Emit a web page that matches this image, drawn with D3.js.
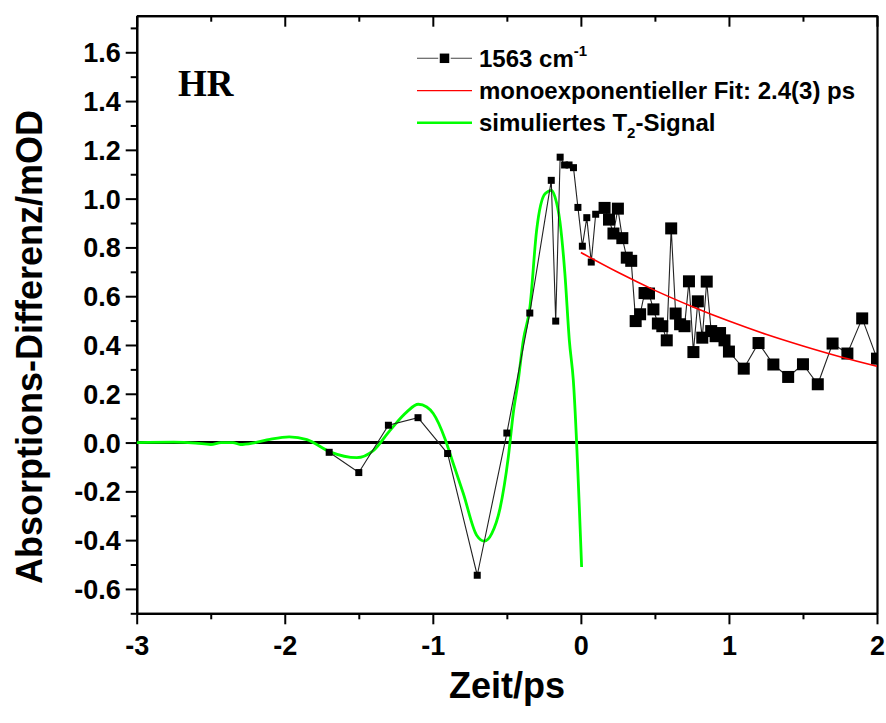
<!DOCTYPE html>
<html>
<head>
<meta charset="utf-8">
<script src="https://cdn.jsdelivr.net/npm/d3@7"></script>
<style>
  html, body { margin: 0; padding: 0; background: #fff; }
  svg { display: block; }
  text { font-family: Arial, "Liberation Sans", sans-serif; font-weight: bold; fill: #000; }
</style>
</head>
<body>
<svg id="chart" width="886" height="723"></svg>
<script>
// Pump-probe trace at 1563 cm-1: fine scan around time zero (small symbols)
const fineTime   = [-1.7, -1.5, -1.3, -1.1, -0.9, -0.7, -0.5, -0.345, -0.2, -0.17, -0.14, -0.11, -0.08, -0.05, -0.02, 0.01, 0.04, 0.07, 0.10];
const fineSignal = [-0.04, -0.123, 0.071, 0.102, -0.045, -0.544, 0.039, 0.531, 1.075, 0.498, 1.17, 1.138, 1.138, 1.127, 0.964, 0.805, 0.922, 0.740, 0.936];

// Later delays (large symbols)
const coarseTime   = [0.16, 0.19, 0.22, 0.25, 0.28, 0.31, 0.34, 0.37, 0.40, 0.43, 0.46, 0.49, 0.52, 0.55, 0.58, 0.61, 0.64, 0.67, 0.70, 0.73, 0.76, 0.79, 0.82, 0.85, 0.88, 0.91, 0.94, 0.97, 1.00,
                      1.1, 1.2, 1.3, 1.4, 1.5, 1.6, 1.7, 1.8, 1.9, 2.0];
const coarseSignal = [0.962, 0.914, 0.857, 0.959, 0.838, 0.758, 0.745, 0.498, 0.526, 0.613, 0.611, 0.546, 0.488, 0.477, 0.419, 0.878, 0.529, 0.485, 0.477, 0.661, 0.371, 0.579, 0.430, 0.660, 0.457, 0.436, 0.449, 0.419, 0.373,
                      0.303, 0.408, 0.320, 0.269, 0.321, 0.239, 0.406, 0.365, 0.509, 0.344];

// Monoexponential fit, tau = 2.4 ps
const fitTime   = [0, 0.25, 0.5, 0.75, 1.0, 1.25, 1.5, 1.75, 2.0];
const fitSignal = [0.779, 0.698, 0.624, 0.558, 0.498, 0.444, 0.396, 0.352, 0.313];

// Simulated T2 signal
const simTime   = [-3.0, -2.75, -2.6, -2.5, -2.43, -2.35, -2.3, -2.2, -2.1, -1.97, -1.85, -1.695, -1.514, -1.402, -1.289, -1.177, -1.098, -1.041, -0.997, -0.918, -0.862, -0.794, -0.704, -0.652, -0.602, -0.546, -0.49, -0.457, -0.423, -0.389, -0.344, -0.299, -0.242, -0.197, -0.175, -0.141, -0.108, -0.078, -0.051, 0.005];
const simSignal = [0.0, 0.002, -0.002, -0.008, 0.0, 0.0, -0.008, 0.0, 0.013, 0.023, 0.012, -0.038, -0.062, -0.033, 0.05, 0.125, 0.157, 0.146, 0.119, 0.016, -0.086, -0.209, -0.38, -0.404, -0.373, -0.27, -0.059, 0.119, 0.255, 0.419, 0.556, 0.87, 1.02, 1.034, 1.007, 0.904, 0.693, 0.419, 0.255, -0.51];

// Axis ticks
const xTicks      = [-3, -2, -1, 0, 1, 2];
const xMinorTicks = [-2.5, -1.5, -0.5, 0.5, 1.5];
const yTicks      = [-0.6, -0.4, -0.2, 0.0, 0.2, 0.4, 0.6, 0.8, 1.0, 1.2, 1.4, 1.6];
const yMinorTicks = [-0.7, -0.5, -0.3, -0.1, 0.1, 0.3, 0.5, 0.7, 0.9, 1.1, 1.3, 1.5, 1.7];

// Texts
const xTitle = "Zeit/ps";
const yTitle = "Absorptions-Differenz/mOD";
const sampleLabel = "HR";
const legendData = "1563 cm";
const legendFit = "monoexponentieller Fit: 2.4(3) ps";
const legendSim = ["simuliertes T", "2", "-Signal"];

const svg = d3.select("#chart");
const plot = { left: 136.7, right: 877, top: 15.7, bottom: 613.3 };

const x = d3.scaleLinear().domain([-3, 2]).range([plot.left, plot.right]);
const y = d3.scaleLinear().domain([-0.7, 1.75]).range([plot.bottom, plot.top]);

svg.append("defs").append("clipPath").attr("id", "clip")
  .append("rect")
  .attr("x", plot.left).attr("y", plot.top)
  .attr("width", plot.right - plot.left).attr("height", plot.bottom - plot.top);

const fmtY = d => d.toFixed(1);
const fmtX = d => String(d);

// Bottom axis
const axBottom = svg.append("g").attr("transform", `translate(0,${plot.bottom})`);
axBottom.call(d3.axisBottom(x).tickValues(xTicks).tickSize(11).tickSizeOuter(0).tickFormat(fmtX));
axBottom.append("g").call(d3.axisBottom(x).tickValues(xMinorTicks).tickSize(6).tickSizeOuter(0).tickFormat(""));
axBottom.selectAll("text").attr("font-size", 27).attr("dy", "1.12em").attr("y", 11);

// Left axis
const axLeft = svg.append("g").attr("transform", `translate(${plot.left},0)`);
axLeft.call(d3.axisLeft(y).tickValues(yTicks).tickSize(11).tickSizeOuter(0).tickFormat(fmtY));
axLeft.append("g").call(d3.axisLeft(y).tickValues(yMinorTicks).tickSize(6).tickSizeOuter(0).tickFormat(""));
axLeft.selectAll("text").attr("font-size", 27).attr("x", -16).attr("dy", "0.35em");

// Top axis (ticks pointing inward)
const axTop = svg.append("g").attr("transform", `translate(0,${plot.top})`);
axTop.call(d3.axisBottom(x).tickValues(xTicks).tickSize(11).tickSizeOuter(0).tickFormat(""));
axTop.append("g").call(d3.axisBottom(x).tickValues(xMinorTicks).tickSize(6).tickSizeOuter(0).tickFormat(""));

// Right axis (plain line)
const axRight = svg.append("g").attr("transform", `translate(${plot.right},0)`);
axRight.call(d3.axisRight(y).tickValues([]).tickSizeOuter(0));

svg.selectAll(".domain").attr("stroke", "#000").attr("stroke-width", 2.2);
svg.selectAll(".tick line").attr("stroke", "#000").attr("stroke-width", 2);

// Zero line
svg.append("line")
  .attr("x1", x(-3)).attr("x2", x(2))
  .attr("y1", y(0)).attr("y2", y(0))
  .attr("stroke", "#000").attr("stroke-width", 3);

const layer = svg.append("g").attr("clip-path", "url(#clip)");

// Simulated T2 signal
const simPts = simTime.map((t, i) => [t, simSignal[i]]);
layer.append("path")
  .attr("d", d3.line().x(d => x(d[0])).y(d => y(d[1])).curve(d3.curveMonotoneX)(simPts))
  .attr("fill", "none").attr("stroke", "#00ff00").attr("stroke-width", 2.8)
  .attr("stroke-linejoin", "round");

// Measured trace
const finePts = fineTime.map((t, i) => [t, fineSignal[i]]);
const coarsePts = coarseTime.map((t, i) => [t, coarseSignal[i]]);
const allPts = finePts.concat(coarsePts);
layer.append("path")
  .attr("d", d3.line().x(d => x(d[0])).y(d => y(d[1]))(allPts))
  .attr("fill", "none").attr("stroke", "#222").attr("stroke-width", 1.1);

const small = 7, large = 12;
layer.selectAll("rect.fine").data(finePts).join("rect")
  .attr("class", "fine")
  .attr("x", d => x(d[0]) - small / 2).attr("y", d => y(d[1]) - small / 2)
  .attr("width", small).attr("height", small).attr("fill", "#000");
layer.selectAll("rect.coarse").data(coarsePts).join("rect")
  .attr("class", "coarse")
  .attr("x", d => x(d[0]) - large / 2).attr("y", d => y(d[1]) - large / 2)
  .attr("width", large).attr("height", large).attr("fill", "#000");

// Monoexponential fit
const fitPts = fitTime.map((t, i) => [t, fitSignal[i]]);
layer.append("path")
  .attr("d", d3.line().x(d => x(d[0])).y(d => y(d[1])).curve(d3.curveMonotoneX)(fitPts))
  .attr("fill", "none").attr("stroke", "#ff0000").attr("stroke-width", 1.6);

// Sample label
svg.append("text").attr("x", 178).attr("y", 96)
  .style("font-family", "'Times New Roman', 'Liberation Serif', serif")
  .attr("font-size", 37).text(sampleLabel);

// Legend
const lg = svg.append("g");
const lx0 = 417, lx1 = 472, tx = 479;
const rows = [58.3, 90.7, 122.7];
lg.append("line").attr("x1", lx0).attr("x2", lx1).attr("y1", rows[0]).attr("y2", rows[0])
  .attr("stroke", "#444").attr("stroke-width", 1.1);
lg.append("rect").attr("x", 444.5 - 5.5).attr("y", rows[0] - 5.5).attr("width", 11).attr("height", 11)
  .attr("fill", "#000").attr("stroke", "#fff").attr("stroke-width", 1.5);
lg.append("line").attr("x1", lx0).attr("x2", lx1).attr("y1", rows[1]).attr("y2", rows[1])
  .attr("stroke", "#ff0000").attr("stroke-width", 1.2);
lg.append("line").attr("x1", lx0).attr("x2", lx1).attr("y1", rows[2]).attr("y2", rows[2])
  .attr("stroke", "#00ff00").attr("stroke-width", 2.6);

const t1 = lg.append("text").attr("x", tx).attr("y", rows[0] + 8.4).attr("font-size", 24);
t1.append("tspan").text(legendData);
t1.append("tspan").attr("font-size", 15).attr("dy", -11).text("-1");
lg.append("text").attr("x", tx).attr("y", rows[1] + 8.4).attr("font-size", 24).text(legendFit);
const t3 = lg.append("text").attr("x", tx).attr("y", rows[2] + 8.4).attr("font-size", 24);
t3.append("tspan").text(legendSim[0]);
t3.append("tspan").attr("font-size", 15).attr("dy", 7).text(legendSim[1]);
t3.append("tspan").attr("dy", -7).text(legendSim[2]);

// Axis titles
svg.append("text").attr("x", 507).attr("y", 698).attr("text-anchor", "middle")
  .attr("font-size", 36).text(xTitle);
svg.append("text").attr("transform", "translate(42,347) rotate(-90)")
  .attr("text-anchor", "middle").attr("font-size", 36).text(yTitle);
</script>
</body>
</html>
